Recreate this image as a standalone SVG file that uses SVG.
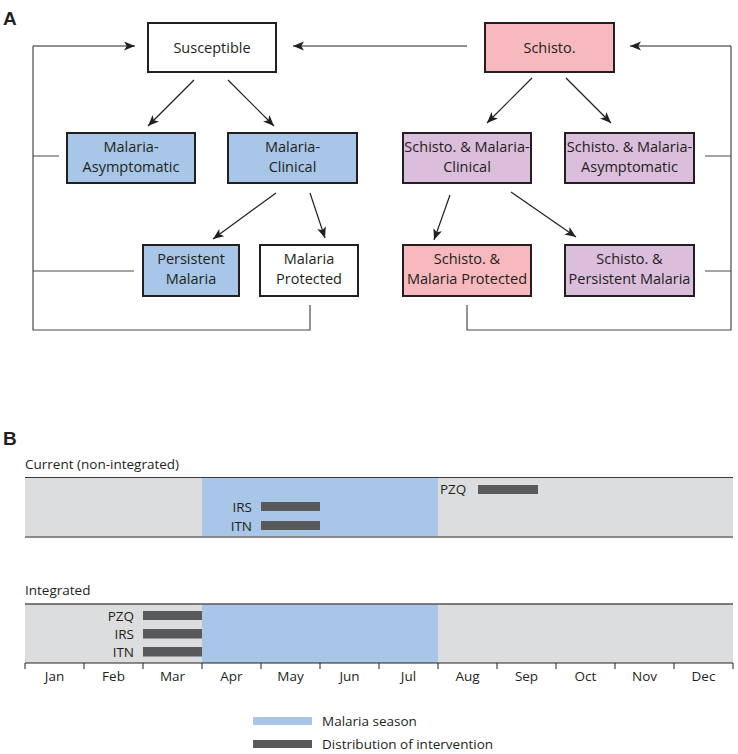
<svg xmlns="http://www.w3.org/2000/svg" width="738" height="754" viewBox="0 0 738 754">
<defs>
<marker id="ah" markerUnits="userSpaceOnUse" markerWidth="12" markerHeight="10" refX="11" refY="4.5" orient="auto">
<path d="M0,0 L11,4.5 L0,9 L2.8,4.5 z" fill="#231f20"/>
</marker>
</defs>
<style>
.box{stroke:#231f20;stroke-width:2}
.w{fill:#ffffff}.b{fill:#a8c6e7}.p{fill:#f7b9be}.v{fill:#dbbddc}
.t{font-family:"Open Sans","Noto Sans",sans-serif;font-size:14.5px;fill:#231f20;text-anchor:middle}
.s{font-family:"Open Sans","Noto Sans",sans-serif;font-size:13.5px;fill:#231f20}
.r{text-anchor:end}.m{text-anchor:middle}
.arr{stroke:#231f20;stroke-width:1.2;fill:none;marker-end:url(#ah)}
.loop{stroke:#4a4a4a;stroke-width:1.2;fill:none}
.lab{font-family:"Liberation Sans",Arial,sans-serif;font-weight:bold;font-size:19px;fill:#231f20}
.bar{fill:#58595b}
</style>
<rect width="738" height="754" fill="#ffffff"/>
<text class="lab" x="3" y="25">A</text>
<text class="lab" x="3" y="445">B</text>

<g id="connectors">
<path class="loop" d="M33,46 V330 H310 V305"/>
<path class="loop" d="M33,156 H59 M33,271 H134"/>
<path class="arr" d="M33,46 H135"/>
<path class="loop" d="M731,46 V330 H467 V305"/>
<path class="loop" d="M705,156 H731 M705,271 H731"/>
<path class="arr" d="M731,46 H630"/>
<path class="arr" d="M467,46 H293"/>
<path class="arr" d="M194,80 L148,126"/>
<path class="arr" d="M228,80 L274,126"/>
<path class="arr" d="M276,193 L213,239"/>
<path class="arr" d="M310,193 L325,238"/>
<path class="arr" d="M532,78 L487,123"/>
<path class="arr" d="M566,78 L611,123"/>
<path class="arr" d="M450,195 L434,240"/>
<path class="arr" d="M511,192 L576,237"/>
</g>

<g id="susceptible"><rect class="box w" x="148" y="23" width="128" height="49"/><text class="t" x="212" y="53">Susceptible</text></g>
<g id="malaria-asymptomatic"><rect class="box b" x="67" y="133" width="128" height="50"/><text class="t" x="131" y="152">Malaria-</text><text class="t" x="131" y="172">Asymptomatic</text></g>
<g id="malaria-clinical"><rect class="box b" x="228" y="133" width="129" height="50"/><text class="t" x="292.5" y="152">Malaria-</text><text class="t" x="292.5" y="172">Clinical</text></g>
<g id="persistent-malaria"><rect class="box b" x="143" y="245" width="96" height="51"/><text class="t" x="191" y="264">Persistent</text><text class="t" x="191" y="284">Malaria</text></g>
<g id="malaria-protected"><rect class="box w" x="260" y="245" width="98" height="51"/><text class="t" x="309" y="264">Malaria</text><text class="t" x="309" y="284">Protected</text></g>
<g id="schisto"><rect class="box p" x="485" y="23" width="129" height="49"/><text class="t" x="549.5" y="53">Schisto.</text></g>
<g id="schisto-malaria-clinical"><rect class="box v" x="403" y="133" width="128" height="50"/><text class="t" x="467" y="152">Schisto. &amp; Malaria-</text><text class="t" x="467" y="172">Clinical</text></g>
<g id="schisto-malaria-asymptomatic"><rect class="box v" x="565" y="133" width="129" height="50"/><text class="t" x="629.5" y="152">Schisto. &amp; Malaria-</text><text class="t" x="629.5" y="172">Asymptomatic</text></g>
<g id="schisto-malaria-protected"><rect class="box p" x="403" y="245" width="128" height="51"/><text class="t" x="467" y="264">Schisto. &amp;</text><text class="t" x="467" y="284">Malaria Protected</text></g>
<g id="schisto-persistent-malaria"><rect class="box v" x="565" y="245" width="129" height="51"/><text class="t" x="629.5" y="264">Schisto. &amp;</text><text class="t" x="629.5" y="284">Persistent Malaria</text></g>

<g id="panel-b">
<text class="s" x="25" y="469">Current (non-integrated)</text>
<rect x="25" y="477.5" width="708" height="59.5" fill="#dcdddf"/>
<rect x="202" y="477.5" width="236" height="59.5" fill="#a8c6e7"/>
<line x1="25" y1="477.5" x2="733" y2="477.5" stroke="#3a3a3a" stroke-width="1"/>
<line x1="25" y1="537" x2="733" y2="537" stroke="#8a8a8a" stroke-width="2"/>
<rect class="bar" x="261" y="502" width="59" height="9"/>
<rect class="bar" x="261" y="521" width="59" height="9"/>
<rect class="bar" x="478" y="485" width="60" height="9"/>
<text class="s r" x="252" y="512">IRS</text>
<text class="s r" x="252" y="530.5">ITN</text>
<text class="s" x="440" y="494">PZQ</text>

<text class="s" x="25" y="595">Integrated</text>
<rect x="25" y="604" width="708" height="59" fill="#dcdddf"/>
<rect x="202" y="604" width="236" height="59" fill="#a8c6e7"/>
<line x1="25" y1="604" x2="733" y2="604" stroke="#555555" stroke-width="1.5"/>
<rect class="bar" x="143" y="611" width="59" height="9"/>
<rect class="bar" x="143" y="629" width="59" height="9.5"/>
<rect class="bar" x="143" y="647" width="59" height="9.5"/>
<text class="s r" x="134" y="620.5">PZQ</text>
<text class="s r" x="134" y="638.5">IRS</text>
<text class="s r" x="134" y="656.5">ITN</text>
<path d="M25,663 H733 M25,663 v6 M84,663 v6 M143,663 v6 M202,663 v6 M261,663 v6 M320,663 v6 M379,663 v6 M438,663 v6 M497,663 v6 M556,663 v6 M615,663 v6 M674,663 v6 M733,663 v6" stroke="#231f20" stroke-width="1" fill="none"/>
<text class="s m" x="54.5" y="681">Jan</text>
<text class="s m" x="113.5" y="681">Feb</text>
<text class="s m" x="172.5" y="681">Mar</text>
<text class="s m" x="231.5" y="681">Apr</text>
<text class="s m" x="290.5" y="681">May</text>
<text class="s m" x="349.5" y="681">Jun</text>
<text class="s m" x="408.5" y="681">Jul</text>
<text class="s m" x="467.5" y="681">Aug</text>
<text class="s m" x="526.5" y="681">Sep</text>
<text class="s m" x="585.5" y="681">Oct</text>
<text class="s m" x="644.5" y="681">Nov</text>
<text class="s m" x="703.5" y="681">Dec</text>

<rect x="253" y="717" width="59" height="8" fill="#a8c6e7"/>
<text class="s" x="322" y="725.5">Malaria season</text>
<rect class="bar" x="253" y="740" width="59" height="8"/>
<text class="s" x="322" y="748.5">Distribution of intervention</text>
</g>
</svg>
